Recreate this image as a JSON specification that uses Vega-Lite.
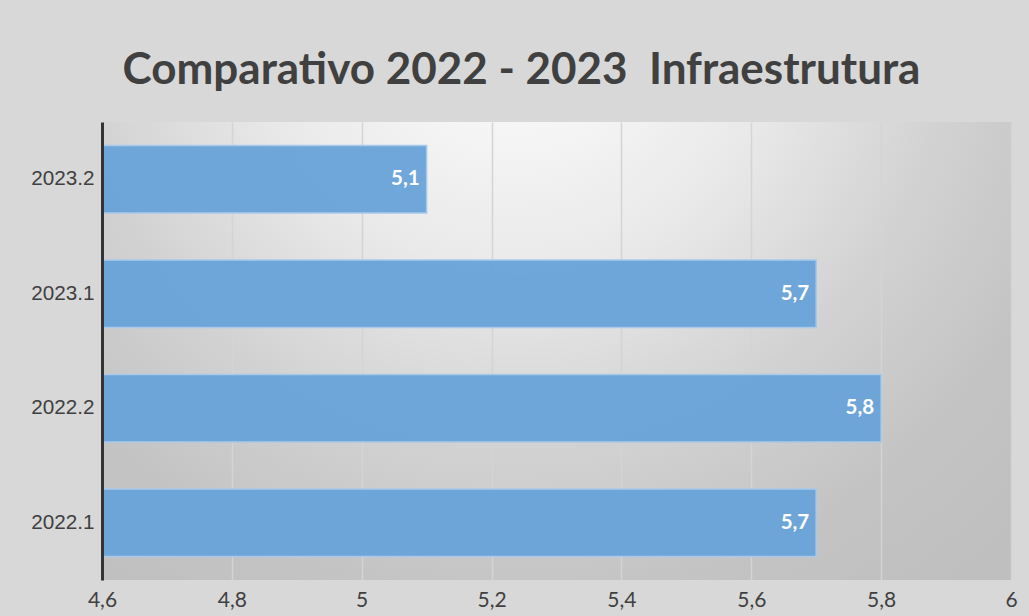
{
  "$schema": "https://vega.github.io/schema/vega-lite/v6.json",
  "width": 909,
  "height": 458,
  "autosize": {"type": "none"},
  "padding": {"left": 102, "top": 122, "right": 18, "bottom": 36},
  "background": "#d8d8d8",
  "view": {
    "stroke": null,
    "fill": {
      "gradient": "radial",
      "x1": 0.454, "y1": 0.125, "r1": 0,
      "x2": 0.454, "y2": 0.125, "r2": 0.8,
      "stops": [
        {"offset": 0, "color": "#fdfdfd"},
        {"offset": 0.15, "color": "#f6f6f6"},
        {"offset": 0.36, "color": "#e9e9e9"},
        {"offset": 0.6, "color": "#d2d2d2"},
        {"offset": 0.82, "color": "#c3c3c3"},
        {"offset": 1, "color": "#bfbfbf"}
      ]
    }
  },
  "title": {
    "text": "Comparativo 2022 - 2023\u00a0 Infraestrutura",
    "font": "Lato",
    "fontSize": 44,
    "fontWeight": "bold",
    "color": "#404040",
    "baseline": "alphabetic",
    "offset": -6,
    "anchor": "middle",
    "dx": -35
  },
  "config": {
    "locale": {
      "number": {"decimal": ",", "thousands": ".", "grouping": [3], "currency": ["R$", ""]}
    }
  },
  "data": {
    "values": [
      {"periodo": "2023.2", "valor": 5.1},
      {"periodo": "2023.1", "valor": 5.7},
      {"periodo": "2022.2", "valor": 5.8},
      {"periodo": "2022.1", "valor": 5.7}
    ]
  },
  "encoding": {
    "y": {
      "field": "periodo",
      "type": "nominal",
      "sort": ["2023.2", "2023.1", "2022.2", "2022.1"],
      "scale": {"paddingInner": 0.41, "paddingOuter": 0.205},
      "axis": {
        "title": null,
        "ticks": false,
        "domainColor": "#333333",
        "domainWidth": 3,
        "labelFont": "Liberation Sans",
        "labelFontSize": 20.7,
        "labelColor": "#404040",
        "labelPadding": 8,
        "zindex": 1
      }
    },
    "x": {
      "field": "valor",
      "type": "quantitative",
      "scale": {"domain": [4.6, 6], "nice": false, "zero": false},
      "axis": {
        "title": null,
        "values": [4.6, 4.8, 5, 5.2, 5.4, 5.6, 5.8, 6],
        "format": "~g",
        "domain": false,
        "ticks": false,
        "grid": true,
        "gridColor": "#d4d4d4",
        "gridWidth": 1.5,
        "labelFont": "Lato",
        "labelFontSize": 21,
        "labelColor": "#404040",
        "labelPadding": 9,
        "labelFlush": false
      }
    }
  },
  "layer": [
    {
      "mark": {
        "type": "bar",
        "clip": true,
        "fill": "#6AA3D8",
        "fillOpacity": 0.96,
        "stroke": "#A9C9EA",
        "strokeWidth": 1.5
      }
    },
    {
      "mark": {
        "type": "text",
        "align": "right",
        "baseline": "middle",
        "dx": -7,
        "font": "Lato",
        "fontSize": 20.5,
        "fontWeight": "bold",
        "color": "#ffffff"
      },
      "encoding": {
        "text": {"field": "valor", "type": "quantitative", "format": ".1f"}
      }
    }
  ]
}
